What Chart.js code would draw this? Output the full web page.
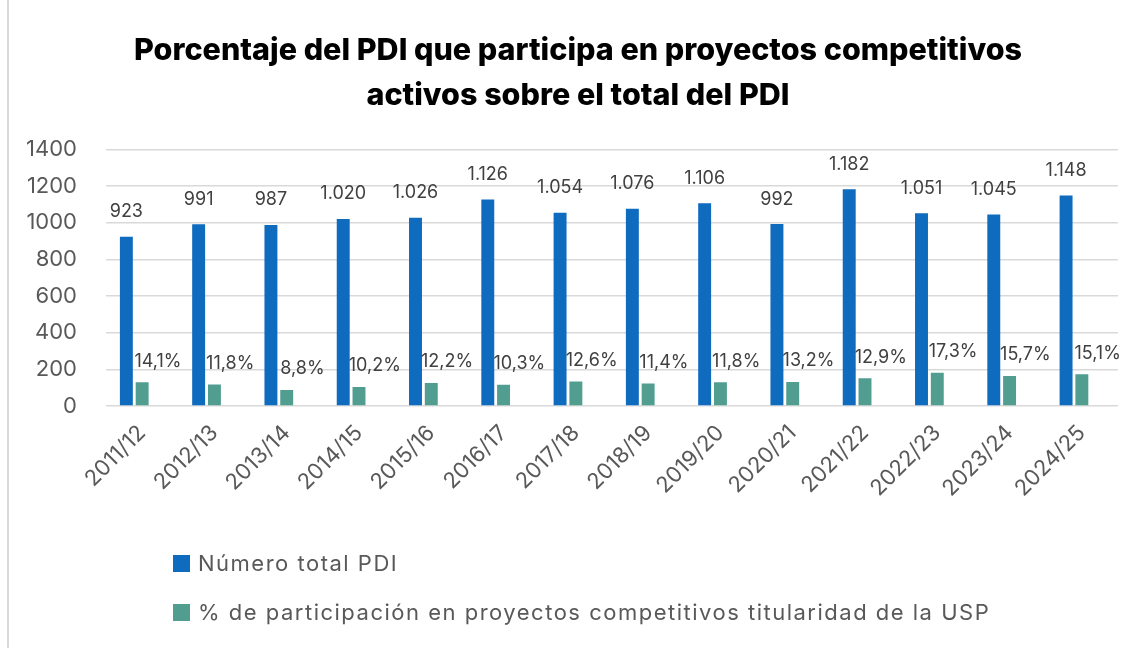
<!DOCTYPE html>
<html>
<head>
<meta charset="utf-8">
<script src="https://cdn.jsdelivr.net/npm/chart.js@4.4.1/dist/chart.umd.min.js"></script>
<style>
  html, body { margin: 0; padding: 0; background: #fff; }
  #wrap { position: relative; width: 1139px; height: 648px; overflow: hidden; }
  #frame { position: absolute; left: 7px; top: 0; width: 0; height: 648px; border-left: 2px solid #d9d9d9; }
  canvas { position: absolute; left: 0; top: 0; }
  #legend { position: absolute; left: 173px; top: 548px; font-family: Inter, "Open Sans", sans-serif; font-size: 22px; letter-spacing: 1.5px; color: #595959; }
  .item { display: flex; align-items: center; height: 30px; margin-bottom: 19px; }
  .box { width: 17px; height: 17px; margin-right: 8px; }
</style>
</head>
<body>
<div id="wrap">
  <div id="frame"></div>
  <canvas id="c" width="1139" height="648"></canvas>
  <div id="legend"></div>
</div>
<script>
const categories = ["2011/12","2012/13","2013/14","2014/15","2015/16","2016/17","2017/18","2018/19","2019/20","2020/21","2021/22","2022/23","2023/24","2024/25"];
const totalPDI = [923, 991, 987, 1020, 1026, 1126, 1054, 1076, 1106, 992, 1182, 1051, 1045, 1148];
const participantes = [130, 117, 87, 104, 125, 116, 133, 123, 130, 131, 152, 182, 164, 173];
const pctLabels = ["14,1%","11,8%","8,8%","10,2%","12,2%","10,3%","12,6%","11,4%","11,8%","13,2%","12,9%","17,3%","15,7%","15,1%"];
const yTicks = [0, 200, 400, 600, 800, 1000, 1200, 1400];
const seriesNames = ["Número total PDI", "% de participación en proyectos competitivos titularidad de la USP"];
const colors = ["#0E6BBE", "#519E91"];

const FONT = 'Inter, "Open Sans", sans-serif';

function fmtThousands(v) {
  const s = String(v);
  return s.length > 3 ? s.slice(0, s.length - 3) + "." + s.slice(-3) : s;
}

const labelPlugin = {
  id: 'labels',
  afterLayout(chart) {
    if (chart.titleBlock) { chart.titleBlock.left = 38; }
  },
  afterDatasetsDraw(chart) {
    const ctx = chart.ctx;
    const m0 = chart.getDatasetMeta(0);
    const m1 = chart.getDatasetMeta(1);
    ctx.save();
    ctx.font = '18px ' + FONT;
    ctx.fillStyle = '#404040';
    ctx.textAlign = 'center';
    ctx.textBaseline = 'middle';
    m0.data.forEach((bar, i) => {
      ctx.fillText(fmtThousands(totalPDI[i]), bar.x, bar.y - 25);
    });
    m1.data.forEach((bar, i) => {
      const dx = bar.x - m0.data[i].x;
      ctx.fillText(pctLabels[i], bar.x + dx, bar.y - 21);
    });
    ctx.restore();
  }
};

const CP = 0.655, BP = 0.82;

const chart = new Chart(document.getElementById('c'), {
  type: 'bar',
  data: {
    labels: categories,
    datasets: [
      { label: seriesNames[0], data: totalPDI, backgroundColor: colors[0], categoryPercentage: CP, barPercentage: BP },
      { label: seriesNames[1], data: participantes, backgroundColor: colors[1], categoryPercentage: CP, barPercentage: BP },
      { label: "", data: categories.map(() => null), backgroundColor: 'rgba(0,0,0,0)', categoryPercentage: CP, barPercentage: BP }
    ]
  },
  options: {
    responsive: false,
    animation: false,
    layout: { padding: { top: 28, right: 21, bottom: 0, left: 0 } },
    plugins: {
      legend: { display: false },
      tooltip: { enabled: false },
      title: {
        display: true,
        text: ["Porcentaje del PDI que participa en proyectos competitivos", "activos sobre el total del PDI"],
        color: '#000',
        font: { family: FONT, size: 30.5, weight: 800, lineHeight: 1.48 },
        padding: { top: 0, bottom: 31 }
      }
    },
    scales: {
      x: {
        grid: { display: false, drawTicks: false },
        border: { display: false },
        ticks: { color: '#595959', font: { family: FONT, size: 22 }, maxRotation: 45, minRotation: 45, padding: 14, autoSkip: false },
        afterFit(scale) { scale.height = 242; }
      },
      y: {
        min: 0, max: 1400,
        afterBuildTicks(scale) { scale.ticks = yTicks.map(v => ({ value: v })); },
        grid: { color: '#d9d9d9', lineWidth: 1.5, drawTicks: false },
        border: { display: false },
        ticks: { color: '#595959', font: { family: FONT, size: 22 }, padding: 29, callback: v => String(v) },
        afterFit(scale) { scale.width = 106; }
      }
    }
  },
  plugins: [labelPlugin]
});

const legend = document.getElementById('legend');
seriesNames.forEach((name, i) => {
  const it = document.createElement('div');
  it.className = 'item';
  const b = document.createElement('div');
  b.className = 'box';
  b.style.background = colors[i];
  const t = document.createElement('span');
  t.textContent = name;
  it.appendChild(b); it.appendChild(t);
  legend.appendChild(it);
});
</script>
</body>
</html>
